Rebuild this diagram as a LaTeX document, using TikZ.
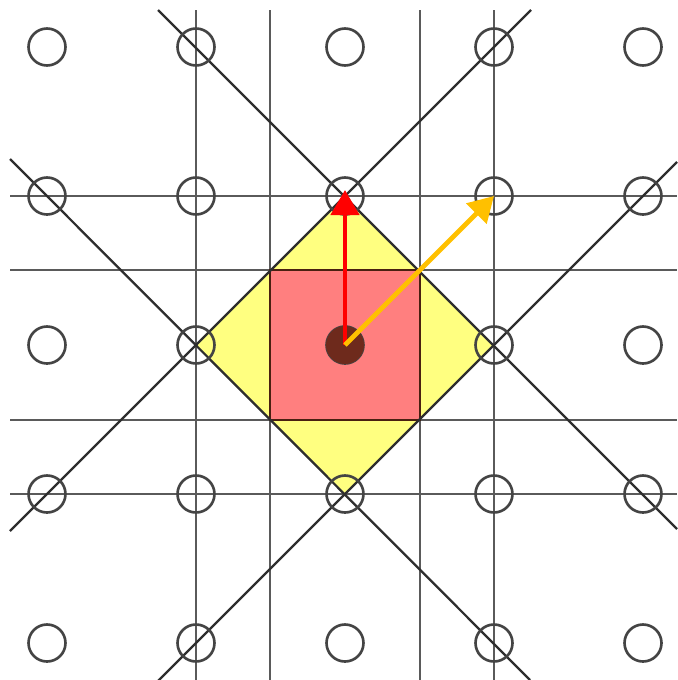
\documentclass[tikz,border=0pt]{standalone}
\usepackage{xcolor}
\usetikzlibrary{arrows.meta}

\definecolor{ringgray}{HTML}{444444}
\definecolor{linegray}{HTML}{5A5A5A}
\definecolor{diaggray}{HTML}{2E2E2E}
\definecolor{cellyellow}{HTML}{FFFF80}
\definecolor{cellred}{HTML}{FF7F7F}
\definecolor{cellbrown}{HTML}{4A2010}
\definecolor{atombrown}{HTML}{6E2A1C}
\definecolor{vecorange}{HTML}{FFC000}

\begin{document}
\begin{tikzpicture}[
    x=0.02cm, y=-0.02cm,
    site/.style={draw=ringgray, circle, line width=1.5pt, minimum size=0.74cm, inner sep=0pt},
    atom/.style={fill=atombrown, circle, minimum size=0.76cm, inner sep=0pt},
    gridline/.style={draw=linegray, line width=1.6pt},
    diagline/.style={draw=diaggray, line width=1.3pt},
    vec/.style={line width=2.7pt, -{Triangle[length=0.5cm, width=0.56cm]}}
]
\useasboundingbox (0,0) rectangle (677,680);

% cells
\fill[cellyellow] (196,345) -- (345,196) -- (494,345) -- (345,494) -- cycle;
\fill[cellred] (270,270) rectangle (420,420);

% lattice lines
\foreach \p in {196,270,420,494} {
    \draw[gridline] (\p,10) -- (\p,680);
    \draw[gridline] (10,\p) -- (677,\p);
}
\draw[cellbrown, line width=1.6pt] (270,270) rectangle (420,420);
\draw[diagline] (158,10) -- (677,529);
\draw[diagline] (10,159) -- (530,680);
\draw[diagline] (531,10) -- (10,531);
\draw[diagline] (677,162) -- (158,681);

% lattice sites
\foreach \i/\y in {1/47,2/196,3/345,4/494,5/643}
    \foreach \j/\x in {1/47,2/196,3/345,4/494,5/643}
        \node[site] (s\i\j) at (\x,\y) {};

\node[atom] (origin) at (345,345) {};

% vectors
\draw[vec, red, shorten >=-0.12cm] (origin.center) -- (s23.center);
\draw[vec, vecorange] (origin.center) -- (s24.center);
\end{tikzpicture}
\end{document}
